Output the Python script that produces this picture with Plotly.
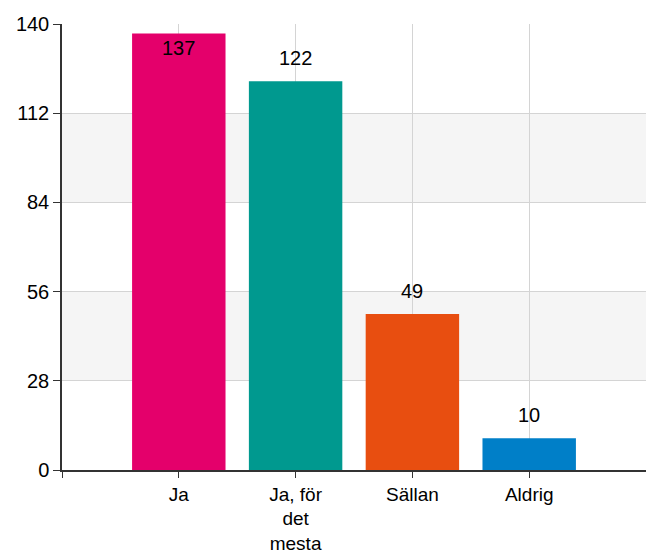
import plotly.graph_objects as go

categories = ["Ja", "Ja, för<br>det<br>mesta", "Sällan", "Aldrig"]
values = [137, 122, 49, 10]
colors = ["#E4006B", "#00998F", "#E84E10", "#007FC8"]
y_ticks = [0, 28, 56, 84, 112, 140]

FONT = "Arial, Liberation Sans, sans-serif"
FS = 20
xs = list(range(len(categories)))

fig = go.Figure()
fig.add_trace(go.Bar(
    x=xs, y=values, width=0.8,
    marker=dict(color=colors, line=dict(width=0)),
    hoverinfo="skip",
))

# alternating bands
for lo, hi in [(28, 56), (84, 112)]:
    fig.add_shape(type="rect", xref="paper", yref="y", x0=0, x1=1, y0=lo, y1=hi,
                  fillcolor="#f5f5f5", line=dict(width=0), layer="below")

# value labels
for x, v in zip(xs, values):
    inside = v > 130
    fig.add_annotation(x=x, y=v, text=str(v), showarrow=False,
                       yanchor="top" if inside else "bottom",
                       yshift=-1 if inside else 10,
                       font=dict(family=FONT, size=FS, color="#000000"))

fig.update_layout(
    width=646, height=546,
    margin=dict(l=54, r=8, t=15.5, b=83.5),
    plot_bgcolor="white", paper_bgcolor="white",
    showlegend=False,
    font=dict(family=FONT, size=FS, color="#000000"),
    bargap=0.2,
)
fig.update_xaxes(
    range=[-1, len(categories)],
    tickmode="array",
    tickvals=[-1] + xs + [len(categories)],
    ticktext=[""] + categories + [""],
    tickfont=dict(size=19),
    showgrid=True, gridcolor="#d4d4d4", gridwidth=1,
    showline=True, linecolor="#333333", linewidth=1.5,
    ticks="outside", ticklen=6, tickcolor="#333333",
    zeroline=False, automargin=False,
)
fig.update_yaxes(
    range=[0, 140],
    tickmode="array", tickvals=y_ticks,
    showgrid=True, gridcolor="#d4d4d4", gridwidth=1,
    showline=True, linecolor="#333333", linewidth=1.5,
    ticks="outside", ticklen=7, tickcolor="#333333",
    zeroline=False, automargin=False,
)

fig.write_html("out.html")
